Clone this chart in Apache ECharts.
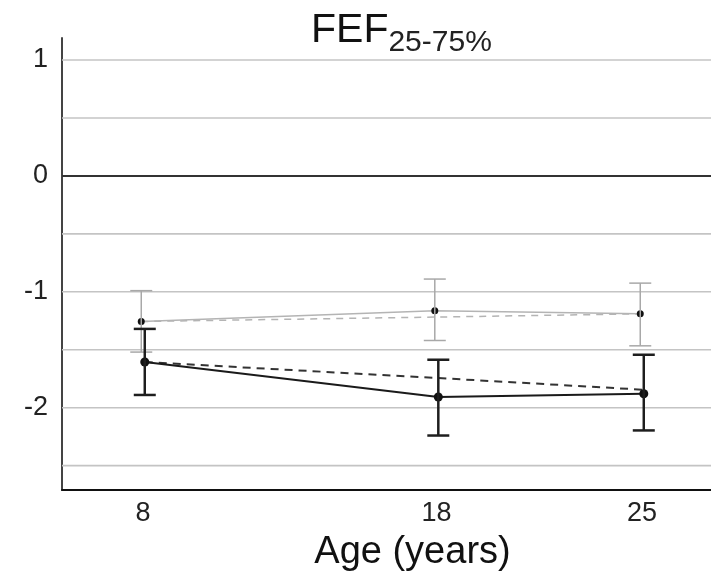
<!DOCTYPE html>
<html>
<head>
<meta charset="utf-8">
<script src="https://cdn.jsdelivr.net/npm/echarts@6/dist/echarts.min.js"></script>
<style>
html,body{margin:0;padding:0;background:#fff;}
#chart{width:711px;height:582px;}
</style>
</head>
<body>
<div id="chart"></div>
<script>
// ---- data ----
const ages = [8, 18, 25];
const xTickLabels = [8, 18, 25];
const yTickLabels = [-2, -1, 0, 1];
const gridValues = [-2.5, -2, -1.5, -1, -0.5, 0.5, 1];
const zeroLine = [0];

const grayMean  = [-1.256, -1.164, -1.19];
const grayUpper = [-0.99, -0.89, -0.925];
const grayLower = [-1.52, -1.42, -1.466];
const grayFit   = [-1.256, -1.218, -1.19];

const blackMean  = [-1.606, -1.908, -1.88];
const blackUpper = [-1.32, -1.586, -1.543];
const blackLower = [-1.89, -2.24, -2.196];
const blackFit   = [-1.606, -1.744, -1.845];

// ---- build ----
const dodge = 0.06;
const pts = (vals, off) => ages.map((a, i) => [a + off, vals[i]]);
const bars = (lo, hi, off) => ages.map((a, i) => [a + off, lo[i], hi[i]]);

function hLines(values, color, width) {
  return {
    type: 'custom',
    silent: true,
    z: 1,
    data: values.map(v => [v]),
    encode: { y: 0 },
    renderItem: function (params, api) {
      const cs = params.coordSys;
      const y = api.coord([cs.x, api.value(0)])[1];
      return {
        type: 'line',
        shape: { x1: cs.x, y1: y, x2: cs.x + cs.width, y2: y },
        style: { stroke: color, lineWidth: width }
      };
    }
  };
}

function errBars(data, color, width, cap) {
  return {
    type: 'custom',
    silent: true,
    z: 5,
    data: data,
    encode: { x: 0, y: [1, 2] },
    renderItem: function (params, api) {
      const x = api.value(0);
      const p1 = api.coord([x, api.value(1)]);
      const p2 = api.coord([x, api.value(2)]);
      const h = cap / 2;
      const st = { stroke: color, lineWidth: width };
      return {
        type: 'group',
        children: [
          { type: 'line', shape: { x1: p1[0], y1: p1[1], x2: p2[0], y2: p2[1] }, style: st },
          { type: 'line', shape: { x1: p1[0] - h, y1: p1[1], x2: p1[0] + h, y2: p1[1] }, style: st },
          { type: 'line', shape: { x1: p2[0] - h, y1: p2[1], x2: p2[0] + h, y2: p2[1] }, style: st }
        ]
      };
    }
  };
}

const FONT = '"Liberation Sans", Arial, sans-serif';
const chart = echarts.init(document.getElementById('chart'), null, { renderer: 'canvas' });
chart.setOption({
  backgroundColor: '#fff',
  animation: false,
  title: {
    text: '{a|FEF}{b|25-75%}',
    left: 311,
    top: 10,
    padding: 0,
    textStyle: {
      fontWeight: 'normal',
      rich: {
        a: { fontSize: 41, fontFamily: FONT, fontWeight: 'normal', color: '#111', lineHeight: 42, verticalAlign: 'top' },
        b: { fontSize: 30, fontFamily: FONT, fontWeight: 'normal', color: '#222', lineHeight: 8, verticalAlign: 'top', padding: [18, 0, 0, 0] }
      }
    }
  },
  grid: { left: 62, right: 0, top: 38, bottom: 92, containLabel: false },
  xAxis: {
    type: 'value',
    min: 5.24,
    max: 27.35,
    name: 'Age (years)',
    nameLocation: 'middle',
    nameGap: 44,
    nameTextStyle: { fontSize: 38, fontFamily: FONT, color: '#111', padding: [0, 0, 0, 52] },
    axisLine: { show: true, onZero: false, lineStyle: { color: '#111', width: 2 } },
    axisTick: { show: false },
    splitLine: { show: false },
    axisLabel: {
      customValues: xTickLabels,
      fontSize: 27, fontFamily: FONT, color: '#222', margin: 10
    }
  },
  yAxis: {
    type: 'value',
    min: -2.71,
    max: 1.19,
    axisLine: { show: true, lineStyle: { color: '#444', width: 2 } },
    axisTick: { show: false },
    splitLine: { show: false },
    axisLabel: {
      customValues: yTickLabels,
      fontSize: 27, fontFamily: FONT, color: '#222', margin: 14
    }
  },
  series: [
    hLines(gridValues, '#c4c4c4', 1.6),
    hLines(zeroLine, '#333', 2),
    {
      type: 'line', name: 'gray fit', data: pts(grayFit, -dodge), showSymbol: false, silent: true, z: 3,
      lineStyle: { color: '#b4b4b4', width: 1.5, type: [7, 6] }
    },
    {
      type: 'line', name: 'gray', data: pts(grayMean, -dodge), symbol: 'circle', symbolSize: 7, silent: true, z: 4,
      itemStyle: { color: '#111' },
      lineStyle: { color: '#b4b4b4', width: 1.5 }
    },
    errBars(bars(grayLower, grayUpper, -dodge), '#a8a8a8', 1.5, 22),
    {
      type: 'line', name: 'black fit', data: pts(blackFit, dodge), showSymbol: false, silent: true, z: 3,
      lineStyle: { color: '#333', width: 2, type: [8, 6] }
    },
    {
      type: 'line', name: 'black', data: pts(blackMean, dodge), symbol: 'circle', symbolSize: 9, silent: true, z: 4,
      itemStyle: { color: '#111' },
      lineStyle: { color: '#1a1a1a', width: 2 }
    },
    errBars(bars(blackLower, blackUpper, dodge), '#1e1e1e', 2.5, 22)
  ]
});
</script>
</body>
</html>
